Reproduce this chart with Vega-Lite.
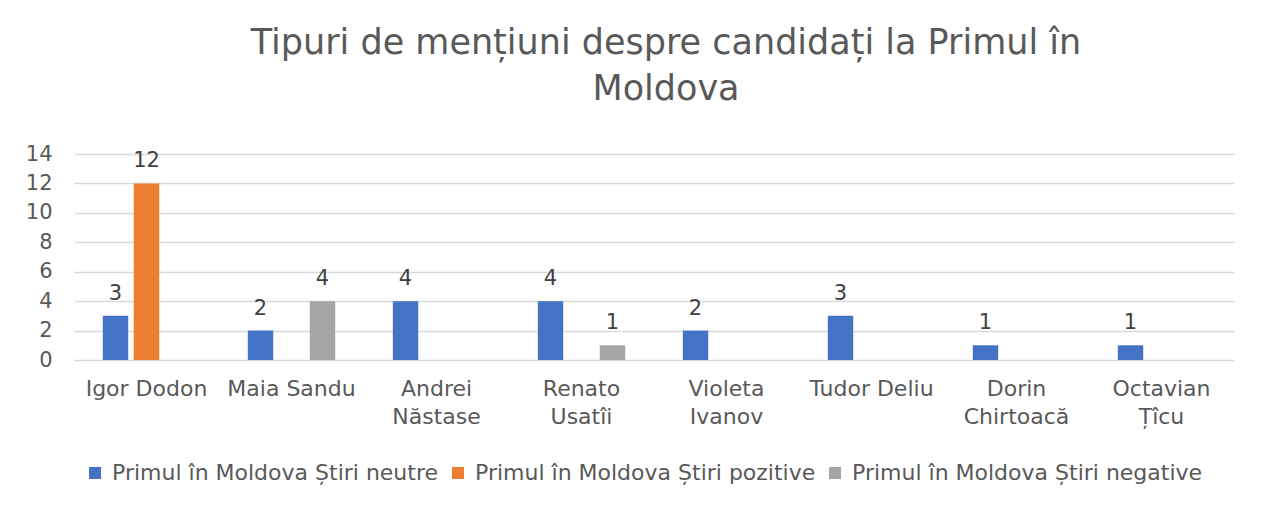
{
  "$schema": "https://vega.github.io/schema/vega-lite/v6.json",
  "width": 1160,
  "height": 206,
  "autosize": {"type": "none"},
  "padding": {"left": 74, "top": 154, "right": 28, "bottom": 148},
  "background": "white",
  "config": {
    "font": "DejaVu Sans",
    "view": {"stroke": null}
  },
  "title": {
    "text": ["Tipuri de mențiuni despre candidați la Primul în", "Moldova"],
    "anchor": "middle",
    "frame": "group",
    "dx": 12,
    "fontSize": 35,
    "fontWeight": "normal",
    "font": "DejaVu Sans",
    "color": "#595959",
    "lineHeight": 46,
    "offset": 36
  },
  "data": {
    "values": [
      {"candidat": "Igor Dodon", "serie": "Primul în Moldova Știri neutre", "valoare": 3},
      {"candidat": "Igor Dodon", "serie": "Primul în Moldova Știri pozitive", "valoare": 12},
      {"candidat": "Maia Sandu", "serie": "Primul în Moldova Știri neutre", "valoare": 2},
      {"candidat": "Maia Sandu", "serie": "Primul în Moldova Știri negative", "valoare": 4},
      {"candidat": "Andrei Năstase", "serie": "Primul în Moldova Știri neutre", "valoare": 4},
      {"candidat": "Renato Usatîi", "serie": "Primul în Moldova Știri neutre", "valoare": 4},
      {"candidat": "Renato Usatîi", "serie": "Primul în Moldova Știri negative", "valoare": 1},
      {"candidat": "Violeta Ivanov", "serie": "Primul în Moldova Știri neutre", "valoare": 2},
      {"candidat": "Tudor Deliu", "serie": "Primul în Moldova Știri neutre", "valoare": 3},
      {"candidat": "Dorin Chirtoacă", "serie": "Primul în Moldova Știri neutre", "valoare": 1},
      {"candidat": "Octavian Țîcu", "serie": "Primul în Moldova Știri neutre", "valoare": 1}
    ]
  },
  "encoding": {
    "x": {
      "field": "candidat",
      "type": "nominal",
      "sort": null,
      "scale": {"paddingInner": 0, "paddingOuter": 0},
      "axis": {
        "title": null,
        "ticks": false,
        "domain": false,
        "labelAngle": 0,
        "labelFontSize": 22,
        "labelColor": "#595959",
        "labelPadding": 18,
        "labelLineHeight": 28,
        "labelLimit": 0,
        "labelExpr": "indexof(['Igor Dodon','Maia Sandu','Tudor Deliu'], datum.value) >= 0 ? datum.value : split(datum.value, ' ')"
      }
    },
    "xOffset": {
      "field": "serie",
      "type": "nominal",
      "sort": ["Primul în Moldova Știri neutre", "Primul în Moldova Știri pozitive", "Primul în Moldova Știri negative"],
      "scale": {
        "domain": ["Primul în Moldova Știri neutre", "Primul în Moldova Știri pozitive", "Primul în Moldova Știri negative"],
        "paddingInner": 0.18,
        "paddingOuter": 0.93
      }
    },
    "y": {
      "field": "valoare",
      "type": "quantitative",
      "scale": {"domain": [0, 14], "nice": false},
      "axis": {
        "title": null,
        "values": [0, 2, 4, 6, 8, 10, 12, 14],
        "ticks": false,
        "domain": false,
        "labelFontSize": 21,
        "labelColor": "#595959",
        "labelPadding": 22,
        "gridColor": "#D9D9D9",
        "gridWidth": 1.3
      }
    }
  },
  "layer": [
    {
      "mark": {"type": "bar"},
      "encoding": {
        "color": {
          "field": "serie",
          "type": "nominal",
          "scale": {
            "domain": ["Primul în Moldova Știri neutre", "Primul în Moldova Știri pozitive", "Primul în Moldova Știri negative"],
            "range": ["#4472C4", "#ED7D31", "#A5A5A5"]
          },
          "legend": {
            "title": null,
            "orient": "none",
            "direction": "horizontal",
            "legendX": 10,
            "legendY": 308,
            "symbolType": "square",
            "symbolSize": 144,
            "symbolStrokeWidth": 0,
            "labelFontSize": 22,
            "labelColor": "#595959",
            "labelOffset": 6,
            "labelLimit": 0,
            "columnPadding": 8
          }
        }
      }
    },
    {
      "mark": {"type": "text", "baseline": "alphabetic", "dy": -16, "fontSize": 21, "color": "#404040"},
      "encoding": {
        "text": {"field": "valoare", "type": "quantitative"}
      }
    }
  ]
}
